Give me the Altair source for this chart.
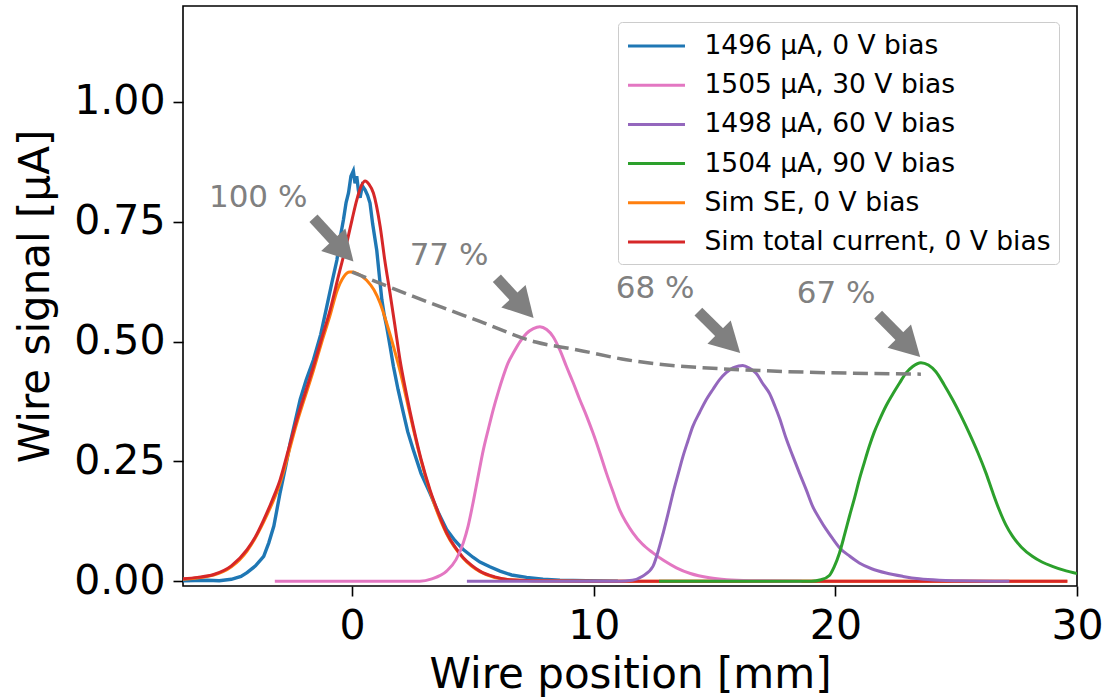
import math
import altair as alt
import pandas as pd

# ---------------- data ----------------
series_names = ["1496 μA, 0 V bias", "1505 μA, 30 V bias", "1498 μA, 60 V bias",
                "1504 μA, 90 V bias", "Sim SE, 0 V bias", "Sim total current, 0 V bias"]
series_colors = ["#1f77b4", "#e377c2", "#9467bd", "#2ca02c", "#ff7f0e", "#d62728"]

blue_x = [-7.0, -6.0, -5.5, -5.0, -4.6, -4.35, -4.0, -3.66, -3.45, -3.24, -2.98, -2.75, -2.56,
          -2.35, -2.15, -1.9, -1.6, -1.3, -1.05, -0.85, -0.63, -0.5, -0.36, -0.25, -0.15, -0.05,
          0.05, 0.12, 0.19, 0.26, 0.33, 0.42, 0.54, 0.64, 0.74, 0.85, 1.02, 1.12, 1.23, 1.33,
          1.43, 1.57, 1.71, 1.9, 2.12, 2.3, 2.53, 2.85, 3.22, 3.55, 3.91, 4.25, 4.6, 5.0, 5.29,
          5.7, 6.12, 6.6, 7.22, 7.9, 8.6, 9.7, 11.0]
blue_y = [0.001, 0.002, 0.001, 0.004, 0.010, 0.018, 0.032, 0.052, 0.080, 0.115, 0.185, 0.240, 0.289,
          0.335, 0.379, 0.420, 0.462, 0.515, 0.573, 0.620, 0.670, 0.715, 0.754, 0.790, 0.810, 0.845,
          0.856, 0.830, 0.845, 0.815, 0.800, 0.825, 0.816, 0.805, 0.789, 0.745, 0.690, 0.640, 0.587, 0.555,
          0.531, 0.490, 0.448, 0.400, 0.351, 0.312, 0.274, 0.225, 0.184, 0.145, 0.108, 0.085, 0.066, 0.050, 0.040,
          0.030, 0.021, 0.013, 0.008, 0.004, 0.002, 0.001, 0.0]

orange_x = [-7.0, -5.73, -5.0, -4.35, -3.66, -2.98, -2.29, -1.6, -1.25, -0.91, -0.63, -0.35, -0.1,
            0.0, 0.2, 0.6, 0.9, 1.16, 1.45, 1.71, 2.0, 2.26, 2.53, 2.85, 3.22, 3.91, 4.6, 5.29,
            6.5, 7.5, 10.0, 29.6]
orange_y = [0.004, 0.013, 0.030, 0.063, 0.124, 0.205, 0.330, 0.440, 0.500, 0.555, 0.605, 0.635, 0.645,
            0.645, 0.642, 0.628, 0.608, 0.580, 0.535, 0.490, 0.435, 0.378, 0.318, 0.252, 0.188, 0.099, 0.048, 0.020,
            0.003, 0.001, 0.0, 0.0]

red_x = [-7.0, -6.4, -5.73, -5.0, -4.35, -4.0, -3.66, -3.3, -2.98, -2.65, -2.29, -1.95, -1.6, -1.25,
         -0.91, -0.55, -0.22, 0.0, 0.19, 0.38, 0.54, 0.7, 0.88, 1.16, 1.35, 1.57, 1.78, 1.98, 2.25,
         2.53, 2.85, 3.22, 3.55, 3.91, 4.25, 4.6, 4.95, 5.29, 5.9, 6.5, 7.5, 10.0, 29.6]
red_y = [0.005, 0.008, 0.014, 0.032, 0.066, 0.093, 0.128, 0.170, 0.212, 0.272, 0.337, 0.392, 0.448, 0.508,
         0.566, 0.640, 0.706, 0.755, 0.795, 0.825, 0.835, 0.828, 0.810, 0.740, 0.670, 0.600, 0.530, 0.462, 0.390,
         0.323, 0.255, 0.191, 0.145, 0.101, 0.072, 0.049, 0.033, 0.021, 0.009, 0.003, 0.001, 0.0, 0.0]

pink_x = [-3.2, 0.0, 2.8, 3.3, 3.91, 4.3, 4.6, 4.8, 5.01, 5.2, 5.43, 5.64, 5.84, 6.05, 6.25, 6.45,
          6.67, 6.95, 7.22, 7.5, 7.77, 8.05, 8.32, 8.6, 8.87, 9.15, 9.42, 9.7, 9.97, 10.25, 10.52,
          10.8, 11.07, 11.35, 11.62, 12.0, 12.45, 12.9, 13.42, 14.0, 14.79, 15.5, 16.5, 18.6]
pink_y = [0.0, 0.0, 0.0, 0.005, 0.021, 0.045, 0.080, 0.115, 0.165, 0.215, 0.274, 0.318, 0.358, 0.395, 0.427, 0.455,
          0.476, 0.500, 0.517, 0.527, 0.531, 0.525, 0.510, 0.482, 0.448, 0.414, 0.379, 0.345, 0.309, 0.268, 0.226,
          0.186, 0.149, 0.122, 0.101, 0.078, 0.059, 0.043, 0.028, 0.016, 0.007, 0.003, 0.001, 0.0]

purple_x = [4.75, 11.0, 11.6, 12.0, 12.45, 12.65, 12.87, 13.08, 13.28, 13.5, 13.69, 13.9, 14.1, 14.38,
            14.66, 14.93, 15.2, 15.48, 15.76, 16.0, 16.17, 16.45, 16.72, 17.0, 17.27, 17.5, 17.69, 17.96,
            18.23, 18.51, 18.8, 19.06, 19.35, 19.62, 19.9, 20.17, 20.6, 20.99, 21.5, 22.1, 22.8, 23.47,
            24.3, 25.1, 27.2]
purple_y = [0.0, 0.0, 0.002, 0.010, 0.031, 0.060, 0.100, 0.142, 0.184, 0.225, 0.260, 0.293, 0.323, 0.352,
            0.379, 0.400, 0.420, 0.435, 0.445, 0.449, 0.450, 0.444, 0.434, 0.412, 0.392, 0.365, 0.340, 0.298,
            0.262, 0.226, 0.190, 0.156, 0.130, 0.108, 0.088, 0.070, 0.052, 0.038, 0.026, 0.017, 0.010, 0.005,
            0.002, 0.001, 0.0]

green_x = [12.7, 19.0, 19.4, 19.75, 19.95, 20.17, 20.38, 20.58, 20.8, 20.99, 21.2, 21.4, 21.6, 21.82,
           22.1, 22.37, 22.65, 22.92, 23.2, 23.54, 23.85, 24.16, 24.5, 24.85, 25.2, 25.54, 25.9, 26.23,
           26.5, 26.78, 27.05, 27.33, 27.7, 28.15, 28.55, 28.98, 29.45, 30.0]
green_y = [0.0, 0.0, 0.003, 0.012, 0.030, 0.059, 0.097, 0.135, 0.175, 0.212, 0.248, 0.281, 0.310, 0.336,
           0.366, 0.390, 0.413, 0.434, 0.448, 0.456, 0.451, 0.437, 0.410, 0.379, 0.345, 0.309, 0.268, 0.226,
           0.187, 0.149, 0.118, 0.094, 0.071, 0.052, 0.040, 0.031, 0.023, 0.016]

trend_x = [0.0, 2.53, 5.29, 7.6, 9.28, 11.35, 16.17, 23.54]
trend_y = [0.645, 0.594, 0.542, 0.499, 0.483, 0.462, 0.441, 0.432]

ann_text = ["100 %", "77 %", "68 %", "67 %"]
ann_text_x = [-3.89, 4.01, 12.54, 20.03]
ann_text_y = [0.799, 0.679, 0.610, 0.600]
arrow_tail_x = [-1.60, 5.99, 14.33, 21.77]
arrow_tail_y = [0.757, 0.632, 0.5625, 0.556]
arrow_tip_x = [0.055, 7.51, 16.06, 23.51]
arrow_tip_y = [0.667, 0.549, 0.476, 0.4675]

# ---------------- layout ----------------
X_DOMAIN = [-7, 30]
Y_DOMAIN = [-0.01, 1.2]
W, H = 894, 580
FONT = "DejaVu Sans"
GRAY = "#808080"
HEAD_LEN = 29.7  # px

x_axis = alt.Axis(values=[0, 10, 20, 30], title="Wire position [mm]", labelFontSize=41,
                  titleFontSize=42, tickSize=10, tickWidth=1.6, tickColor="black",
                  labelPadding=10, titlePadding=8, labelFlush=False, labelOverlap=False,
                  grid=False, domain=False, labelColor="black", titleColor="black",
                  titleFontWeight="normal", labelFont=FONT, titleFont=FONT)
y_axis = alt.Axis(values=[0, 0.25, 0.5, 0.75, 1.0], format=".2f", title="Wire signal [μA]",
                  labelFontSize=41, titleFontSize=42, tickSize=10, tickWidth=1.6, tickColor="black",
                  labelPadding=8, titlePadding=16, labelOverlap=False, grid=False, domain=False,
                  labelColor="black", titleColor="black", titleFontWeight="normal",
                  labelFont=FONT, titleFont=FONT)
x_scale = alt.Scale(domain=X_DOMAIN, nice=False, zero=False)
y_scale = alt.Scale(domain=Y_DOMAIN, nice=False, zero=False)

color_scale = alt.Scale(domain=series_names, range=series_colors)
legend = alt.Legend(orient="none", legendX=435, legendY=16, title=None,
                    symbolType="M-2,0L2,0", symbolSize=812, symbolStrokeWidth=3,
                    labelFontSize=26.5, labelFont=FONT, labelColor="black", labelLimit=600,
                    padding=8, rowPadding=9.2, symbolOffset=14.5, labelOffset=32,
                    fillColor="white", strokeColor="#cccccc", cornerRadius=4)


def series_layer(xs, ys, name, width=3.0, interp="monotone"):
    df = pd.DataFrame({"x": xs, "y": ys, "series": name})
    return alt.Chart(df).mark_line(strokeWidth=width, clip=True, interpolate=interp).encode(
        x=alt.X("x:Q", scale=x_scale, axis=x_axis),
        y=alt.Y("y:Q", scale=y_scale, axis=y_axis),
        color=alt.Color("series:N", scale=color_scale, legend=legend),
    )


layers = [
    series_layer(blue_x, blue_y, series_names[0], 3.4, "linear"),
    series_layer(orange_x, orange_y, series_names[4]),
    series_layer(red_x, red_y, series_names[5]),
    series_layer(pink_x, pink_y, series_names[1]),
    series_layer(purple_x, purple_y, series_names[2]),
    series_layer(green_x, green_y, series_names[3]),
]

trend_df = pd.DataFrame({"x": trend_x, "y": trend_y})
layers.append(alt.Chart(trend_df).mark_line(color=GRAY, strokeWidth=3.5, strokeDash=[15, 6.5],
                                            interpolate="monotone", clip=True).encode(
    x=alt.X("x:Q", scale=x_scale, axis=x_axis), y=alt.Y("y:Q", scale=y_scale, axis=y_axis)))

# arrows: shaft + head computed from tail/tip through the plot scale
sx = W / (X_DOMAIN[1] - X_DOMAIN[0])
sy = H / (Y_DOMAIN[1] - Y_DOMAIN[0])
rows = []
for tx, ty, px, py in zip(arrow_tail_x, arrow_tail_y, arrow_tip_x, arrow_tip_y):
    dx = (px - tx) * sx
    dy = -(py - ty) * sy
    L = math.hypot(dx, dy)
    ux, uy = dx / L, dy / L
    bx = px - (HEAD_LEN - 3) * ux / sx
    by = py + (HEAD_LEN - 3) * uy / sy
    ang = math.degrees(math.atan2(dy, dx)) % 360
    rows.append({"x": tx, "y": ty, "x2": bx, "y2": by, "tipx": px, "tipy": py, "angle": ang})
arrow_df = pd.DataFrame(rows)

layers.append(alt.Chart(arrow_df).mark_rule(color=GRAY, strokeWidth=11, strokeCap="butt").encode(
    x=alt.X("x:Q", scale=x_scale, axis=x_axis), y=alt.Y("y:Q", scale=y_scale, axis=y_axis),
    x2="x2:Q", y2="y2:Q"))
layers.append(alt.Chart(arrow_df).mark_point(shape="M0,0L-1.8,-1L-1.8,1Z", size=1089, filled=True,
                                              color=GRAY, opacity=1, strokeWidth=0).encode(
    x=alt.X("tipx:Q", scale=x_scale, axis=x_axis), y=alt.Y("tipy:Q", scale=y_scale, axis=y_axis),
    angle=alt.Angle("angle:Q", scale=None)))

text_df = pd.DataFrame({"x": ann_text_x, "y": ann_text_y, "t": ann_text})
layers.append(alt.Chart(text_df).mark_text(fontSize=31, font=FONT, color=GRAY, align="center",
                                           baseline="middle").encode(
    x=alt.X("x:Q", scale=x_scale, axis=x_axis), y=alt.Y("y:Q", scale=y_scale, axis=y_axis),
    text="t:N"))

chart = alt.layer(*layers).properties(
    width=W, height=H,
    padding={"left": 183, "top": 6, "right": 28, "bottom": 112},
    autosize=alt.AutoSizeParams(type="none"),
).configure(
    font=FONT, background="white",
    view=alt.ViewConfig(stroke="black", strokeWidth=1.6),
)

chart.save("out.html", embed_options={"renderer": "svg", "actions": False})
